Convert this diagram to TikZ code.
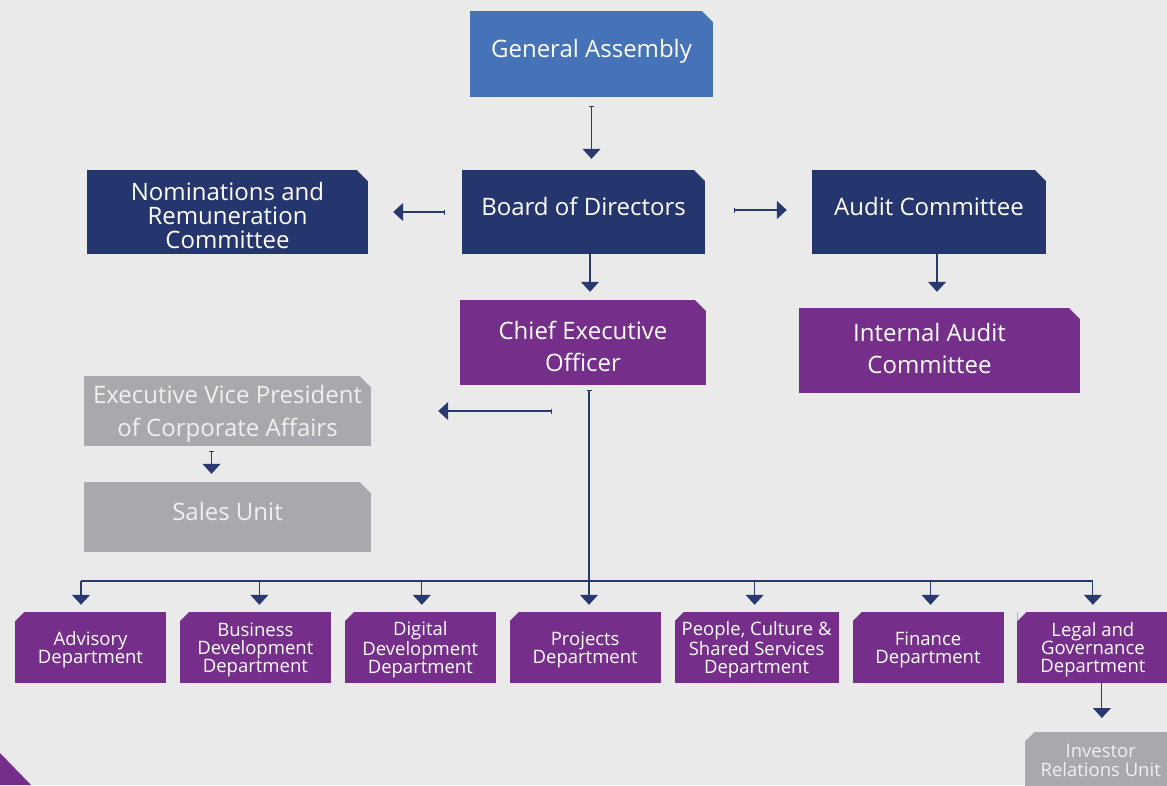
\documentclass[tikz,border=0pt]{standalone}
\usepackage{fontspec}
\setmainfont{Open Sans}
\usetikzlibrary{positioning,chains,arrows.meta}

\definecolor{bgcol}{RGB}{234,234,234}
\definecolor{gablue}{RGB}{70,115,184}
\definecolor{navy}{RGB}{37,53,110}
\definecolor{plum}{RGB}{117,47,138}
\definecolor{ash}{RGB}{168,169,172}
\definecolor{linkcol}{RGB}{40,56,112}

% strut on the first line pushes a block of lines down a little
\newcommand{\toppad}[1]{\rule{0pt}{#1}}
\newcommand{\padr}{\hspace*{20pt}}

\tikzset{
    cutne/.style={path picture={\fill[bgcol] ([xshift=-#1]path picture bounding box.north east) -- (path picture bounding box.north east) -- ([yshift=-#1]path picture bounding box.north east) -- cycle;}},
    cutnw/.style={path picture={\fill[bgcol] ([xshift=#1]path picture bounding box.north west) -- (path picture bounding box.north west) -- ([yshift=-#1]path picture bounding box.north west) -- cycle;}},
    topbox/.style={cutne=11pt, inner sep=2pt, align=center, text=white, font=\fontsize{24}{24}\selectfont},
    deptbox/.style={cutnw=9pt, fill=plum, minimum width=151pt, minimum height=71pt, inner sep=1pt, align=center, text=white, text depth=-4pt, font=\fontsize{18.5}{18}\selectfont},
    unitbox/.style={cutnw=9pt, fill=ash, text=white!94!black, minimum width=151pt, minimum height=56pt, inner sep=1pt, align=center, font=\fontsize{18.5}{19}\selectfont},
    link/.style={draw=linkcol, line width=1.1pt, -{Triangle[width=18pt,length=10pt]}},
    barlink/.style={link, {Bar[width=5pt,line width=1pt]}-{Triangle[width=18pt,length=10pt]}}
}

\begin{document}
\begin{tikzpicture}[x=1pt, y=-1pt, node distance=13.5pt]
    \fill[bgcol] (0,0) rectangle (1167,785);
    \useasboundingbox (0,0) rectangle (1167,785);

    % board level
    \node[topbox, fill=gablue, minimum width=243pt, minimum height=86pt, text depth=12pt] (ga) at (591.5,54) {General Assembly};
    \node[topbox, fill=navy, minimum width=243pt, minimum height=84pt, text depth=12pt] (bod) at (583.5,212) {Board of Directors};
    \node[topbox, fill=navy, minimum width=281pt, minimum height=84pt] (nrc) at (227.5,212) {\toppad{25pt}Nominations and\\Remuneration\\Committee};
    \node[topbox, fill=navy, minimum width=234pt, minimum height=84pt, text depth=12pt] (ac) at (929,212) {Audit Committee};
    \node[topbox, fill=plum, minimum width=246pt, minimum height=85pt, font=\fontsize{24}{32}\selectfont] (ceo) at (583,342.5) {\toppad{27pt}Chief Executive\\Officer};
    \node[topbox, fill=plum, minimum width=281pt, minimum height=85pt, text depth=4pt, font=\fontsize{24}{32}\selectfont] (iac) at (939.5,350.5) {Internal Audit\padr\\Committee\padr};
    \node[topbox, fill=ash, text=white!94!black, minimum width=287pt, minimum height=70pt, text depth=0pt, font=\fontsize{24}{33}\selectfont] (evp) at (227.5,411) {Executive Vice President\\of Corporate Affairs};
    \node[topbox, fill=ash, text=white!94!black, minimum width=287pt, minimum height=70pt, text depth=12pt] (sales) at (227.5,517) {Sales Unit};

    % departments
    \begin{scope}[start chain=dept going right]
        \node[deptbox, on chain] (adv) at (90.5,647.5) {Advisory\\Department};
        \node[deptbox, on chain] (bdd) {Business\\Development\\Department};
        \node[deptbox, on chain] (ddd) {Digital\\Development\\Department};
        \node[deptbox, on chain] (proj) {Projects\\Department};
        \node[deptbox, on chain, minimum width=164pt] (ppl) {People, Culture \&\\Shared Services\\Department};
        \node[deptbox, on chain] (fin) {Finance\\Department};
        \node[deptbox, on chain] (legal) {Legal and\\Governance\\Department};
    \end{scope}
    \node[unitbox, anchor=north west] (inv) at (1025,732) {Investor\\Relations Unit};
    \fill[plum] (0,753) -- (31,785) -- (0,785) -- cycle;

    % connectors
    \draw[barlink, shorten <=9pt, shorten >=11pt] (ga) -- (ga |- bod.north);
    \draw[barlink, shorten <=17pt, shorten >=25pt] (bod) -- (nrc);
    \draw[barlink, shorten <=29pt, shorten >=25pt] ([yshift=2pt]bod.east) -- ([yshift=2pt]ac.west);
    \draw[link, shorten >=8pt] ([xshift=6.5pt]bod.south) -- ([xshift=6.5pt]bod.south |- ceo.north);
    \draw[link, shorten >=16pt] ([xshift=8pt]ac.south) -- ([xshift=8pt]ac.south |- iac.north);
    \coordinate (evptap) at (552,411);
    \draw[barlink, shorten >=67pt] (evptap) -- (evp.east);
    \draw[barlink, shorten <=5pt, shorten >=8pt] ([xshift=-16pt]evp.south) -- ([xshift=-16pt]evp.south |- sales.north);

    \coordinate (bus) at (589,581);
    \draw[barlink, shorten <=5pt, shorten >=7pt] ([xshift=6pt]ceo.south) -- ([xshift=6pt]ceo.south |- proj.north);
    \draw[draw=linkcol, line width=1.1pt] ([xshift=-9.5pt]adv.north |- bus) -- (legal.north |- bus);
    \foreach \d/\dx in {adv/-9.5, bdd/4, ddd/1.5, ppl/-2, fin/2.5, legal/0}
        \draw[link, shorten >=7pt] ([xshift=\dx pt]\d.north |- bus) -- ([xshift=\dx pt]\d.north);
    \draw[link, shorten >=14pt] ([xshift=9pt]legal.south) -- ([xshift=9pt]legal.south |- inv.north);
\end{tikzpicture}
\end{document}
